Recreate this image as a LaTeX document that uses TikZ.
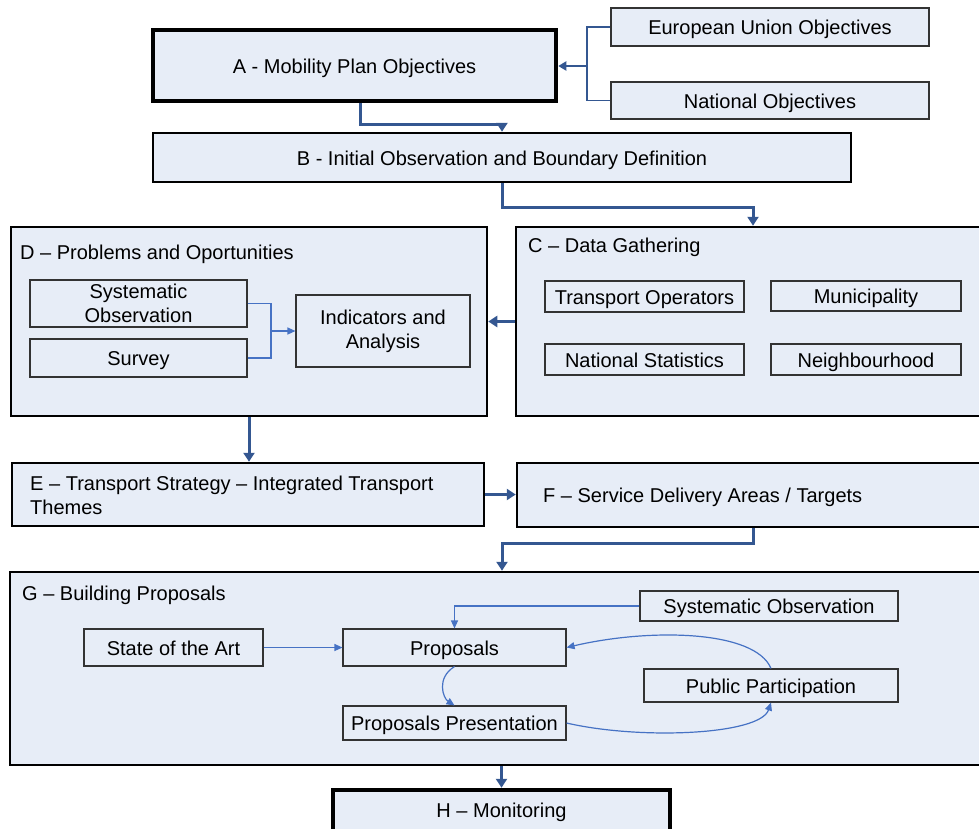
\documentclass[tikz,border=0pt]{standalone}
\usepackage{fontspec}
\setmainfont{Liberation Sans}
\usetikzlibrary{arrows.meta}
\definecolor{boxfill}{RGB}{231,237,247}
\definecolor{darr}{RGB}{52,87,145}
\definecolor{larr}{RGB}{70,114,196}
\tikzset{
  outerbox/.style={draw=black, line width=2.5pt, fill=boxfill, inner sep=0pt},
  heavybox/.style={draw=black, line width=4.5pt, fill=boxfill, inner sep=0pt, text height=19pt, text depth=4pt},
  multibox/.style={draw=black!80, line width=1.1pt, fill=boxfill, inner sep=0pt, align=center},
  innerbox/.style={multibox, text height=19pt, text depth=4pt},
  bigarrow/.style={draw=darr, line width=3pt, -{Triangle[width=11pt,length=9pt]}},
  smallbig/.style={draw=darr, line width=2.5pt, -{Triangle[width=9pt,length=8pt]}},
  thinarrow/.style={draw=larr, line width=1.2pt, -{Triangle[width=7pt,length=8pt]}},
  thinline/.style={draw=larr, line width=1.2pt},
  bracketline/.style={draw=darr, line width=1.2pt},
  title/.style={anchor=west, inner sep=0pt},
}
\begin{document}
\begin{tikzpicture}[x=1pt, y=-1pt, font=\fontsize{20}{24}\selectfont]
\useasboundingbox (0,0) rectangle (979,828);
\clip (0,0) rectangle (979,828);

% top row
\node[innerbox, minimum width=318pt, minimum height=38pt] (EU) at (770,27) {European Union Objectives};
\node[innerbox, minimum width=318pt, minimum height=37pt] (NO) at (770,100.5) {National Objectives};
\node[heavybox, minimum width=403pt, minimum height=71pt] (A) at (354.5,65.5) {A - Mobility Plan Objectives};
\node[outerbox, minimum width=698pt, minimum height=49pt, text height=19pt, text depth=4pt] (B) at (502,157.5) {B - Initial Observation and Boundary Definition};

% D and C
\node[outerbox, minimum width=476pt, minimum height=189pt] (D) at (249,321.5) {};
\node[title] (Dt) at (20,254) {D – Problems and Oportunities};
\node[multibox, minimum width=217pt, minimum height=47pt] (DSO) at (138.5,303.5) {Systematic\\Observation};
\node[innerbox, minimum width=217pt, minimum height=38pt] (DS) at (138.5,358) {Survey};
\node[multibox, minimum width=174pt, minimum height=72pt] (DI) at (383,331) {Indicators and\\Analysis};

\node[outerbox, minimum width=474pt, minimum height=189pt] (C) at (753,321.5) {};
\node[title] (Ct) at (528,247) {C – Data Gathering};
\node[innerbox, minimum width=199pt, minimum height=31pt] (CTO) at (644.5,296.5) {Transport Operators};
\node[innerbox, minimum width=190pt, minimum height=30pt] (CM) at (866,296) {Municipality};
\node[innerbox, minimum width=199pt, minimum height=31pt] (CNS) at (644.5,359.5) {National Statistics};
\node[innerbox, minimum width=190pt, minimum height=31pt] (CN) at (866,359.5) {Neighbourhood};

% E and F
\node[outerbox, minimum width=472pt, minimum height=63pt] (E) at (248,494.5) {};
\node[title, align=left] (Et) at (30,495.5) {E – Transport Strategy – Integrated Transport\\Themes};
\node[outerbox, minimum width=473pt, minimum height=64pt] (F) at (753.5,495) {};
\node[title] (Ft) at (543,497) {F – Service Delivery Areas / Targets};

% G
\node[outerbox, minimum width=980pt, minimum height=193pt] (G) at (500,668.5) {};
\node[title] (Gt) at (22,595) {G – Building Proposals};
\node[innerbox, minimum width=258pt, minimum height=30pt] (GSO) at (769,606) {Systematic Observation};
\node[innerbox, minimum width=179pt, minimum height=37pt] (SA) at (173.5,647.5) {State of the Art};
\node[innerbox, minimum width=223pt, minimum height=37pt] (P) at (454.5,647.5) {Proposals};
\node[innerbox, minimum width=254pt, minimum height=33pt] (PP) at (771,685.5) {Public Participation};
\node[innerbox, minimum width=223pt, minimum height=34pt] (PR) at (454.5,723) {Proposals Presentation};

% H
\node[heavybox, minimum width=337pt, minimum height=44pt, text height=14pt] (H) at (501.5,812) {H – Monitoring};

% connectors top
\coordinate (br) at (587,66);
\draw[bracketline] (EU.west) -| (br) |- (NO.west);
\draw[smallbig] (br) -- (br -| A.east);
\coordinate (ab) at (502,124);
\draw[bigarrow] ([xshift=5.5pt]A.south) |- (ab) -- (B.north);
\coordinate (bc) at (753,207);
\draw[bigarrow] (B.south) |- (bc) -- (C.north);
\draw[bigarrow] (C.west) -- (D.east);
\draw[bigarrow] (D.south) -- (D.south |- E.north);
\draw[bigarrow] (E.east) -- (E.east -| F.west);
\coordinate (fg) at (502,543);
\draw[bigarrow] (F.south) |- (fg) -- (fg |- G.north);
\draw[bigarrow] (H.north |- G.south) -- (H.north);

% D internal
\coordinate (dj) at (271,331);
\draw[thinline] (DSO.east) -| (dj);
\draw[thinline] (DS.east) -| (dj);
\draw[thinarrow] (dj) -- (dj -| DI.west);

% G internal
\draw[thinarrow] (GSO.west) -| (P.north);
\draw[thinarrow] (SA.east) -- (P.west);
\draw[thinarrow] (P.south) .. controls (436,678) and (443,698) .. (PR.north);
\draw[thinarrow] (PR.east) .. controls (640,740) and (760,735) .. (PP.south);
\draw[thinarrow] (PP.north) .. controls (755,630) and (650,628) .. (P.east);
\end{tikzpicture}
\end{document}
